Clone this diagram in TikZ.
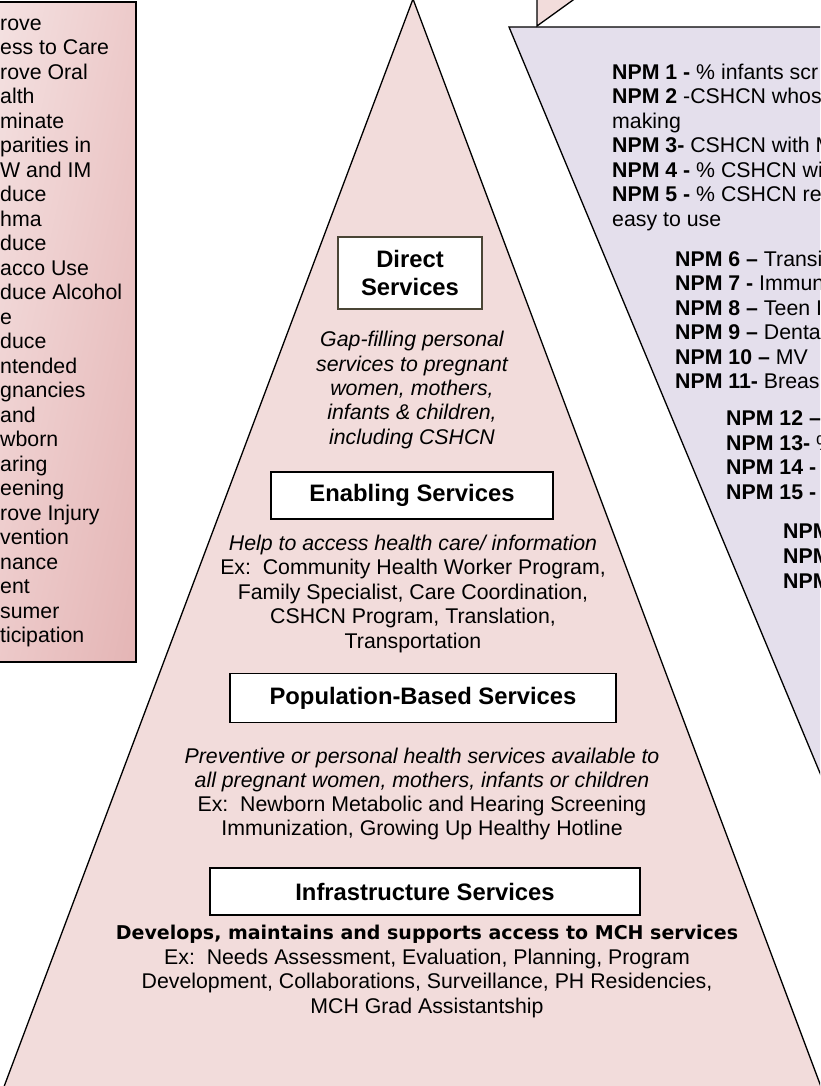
\documentclass[tikz,border=0pt]{standalone}
\usepackage{fontspec}
\setmainfont{Liberation Sans}
\newfontfamily\wideface{DejaVu Sans}
\usepackage{xcolor}
\usepackage{tikz}
\usetikzlibrary{positioning, shadings}
\definecolor{pyrpink}{HTML}{F2DCDB}
\definecolor{goallight}{HTML}{F4E2E2}
\definecolor{goalmid}{HTML}{EDCACA}
\definecolor{goaldark}{HTML}{E4B5B5}
\definecolor{npmlilac}{HTML}{E4DFEC}
\definecolor{oliveline}{HTML}{4A4535}

\tikzset{
  tierbox/.style={draw=black, fill=white, line width=1.3pt, inner sep=0pt,
    align=center, font=\bfseries\fontsize{23.8}{28}\selectfont},
  tiertext/.style={align=center, inner sep=0pt, font=\fontsize{21.3}{24.5}\selectfont},
  gapnote/.style={tiertext, font=\itshape\fontsize{21.3}{24.3}\selectfont},
  npmlist/.style={anchor=west, align=left, inner sep=0pt, font=\fontsize{21.3}{24.5}\selectfont},
  goallist/.style={anchor=west, align=left, inner sep=0pt, font=\fontsize{21.3}{24.5}\selectfont},
}

\begin{document}
\begin{tikzpicture}[x=1pt, y=-1pt]
  \useasboundingbox (0,0) rectangle (820,1086);
  \clip (0,0) rectangle (820,1086);

  % pyramid of services
  \draw[fill=pyrpink, line width=1.3pt] (413,-1) -- (-1,1100) -- (826,1100) -- cycle;

  % NPM panel and the tip above it
  \draw[fill=npmlilac, line width=1.3pt] (509,27) -- (830,27) -- (830,797) -- cycle;
  \filldraw[fill=pyrpink, line width=1.3pt] (537,-5) -- (537,26) -- (580,-5);

  % goals box (cut off on the left)
  \shade[upper left=goallight, upper right=goalmid, lower left=goalmid, lower right=goaldark]
    (-5,2) rectangle (136,662);
  \draw[line width=1.6pt] (-5,2) rectangle (136,662);
  \node[goallist] (goals) at (0,333) {%
    rove\\ess to Care\\rove Oral\\alth\\minate\\parities in\\W and IM\\duce\\hma\\%
    duce\\acco Use\\duce Alcohol\\e\\duce\\ntended\\gnancies\\and\\wborn\\aring\\%
    eening\\rove Injury\\vention\\nance\\ent\\sumer\\ticipation};

  % tiers
  \node[tierbox, draw=oliveline, minimum width=144pt, minimum height=72pt] (direct)
    at (410,273) {Direct\\Services};
  \node[gapnote] (directnote) at (412,390) {%
    Gap-filling personal\\services to pregnant\\women, mothers,\\infants \& children,\\including CSHCN};

  \node[tierbox, minimum width=282pt, minimum height=47pt] (enabling)
    at (412,495.5) {Enabling Services};
  \node[tiertext] (enablingnote) at (413,593.5) {%
    \textit{Help to access health care/ information}\\
    Ex:\ \ Community Health Worker Program,\\
    Family Specialist, Care Coordination,\\
    CSHCN Program, Translation,\\
    Transportation};

  \node[tierbox, minimum width=386pt, minimum height=49pt] (population)
    at (423,698) {Population-Based Services};
  \node[tiertext, font=\fontsize{21.3}{24.2}\selectfont] (populationnote) at (422,794) {%
    \textit{Preventive or personal health services available to}\\
    \textit{all pregnant women, mothers, infants or children}\\
    Ex:\ \ Newborn Metabolic and Hearing Screening\\
    Immunization, Growing Up Healthy Hotline};

  \node[tierbox, minimum width=430pt, minimum height=47pt] (infra)
    at (425,891.5) {Infrastructure Services};
  \node[tiertext, font=\fontsize{21.3}{24.7}\selectfont] (infranote) at (427,971.5) {%
    {\wideface\bfseries\fontsize{19}{24.7}\selectfont Develops, maintains and supports access to MCH services}\\
    Ex:\ \ Needs Assessment, Evaluation, Planning, Program\\
    Development, Collaborations, Surveillance, PH Residencies,\\
    MCH Grad Assistantship};

  % performance measures
  \node[npmlist] (npmA) at (612,147) {%
    \textbf{NPM 1 -} \% infants scr\\
    \textbf{NPM 2} -CSHCN whos\\
    making\\
    \textbf{NPM 3-} CSHCN with M\\
    \textbf{NPM 4 -} \% CSHCN wi\\
    \textbf{NPM 5 -} \% CSHCN re\\
    easy to use};
  \node[npmlist] (npmB) at (675,320) {%
    \textbf{NPM 6 --} Transi\\
    \textbf{NPM 7 -} Immun\\
    \textbf{NPM 8 --} Teen I\\
    \textbf{NPM 9 --} Denta\\
    \textbf{NPM 10 --} MV\\
    \textbf{NPM 11-} Breas};
  \node[npmlist] (npmC) at (726,455) {%
    \textbf{NPM 12 --}\\
    \textbf{NPM 13-} \%\\
    \textbf{NPM 14 -}\\
    \textbf{NPM 15 -}};
  \node[npmlist, font=\bfseries\fontsize{21.3}{25}\selectfont] (npmD) at (783,556.5) {NPM\\NPM\\NPM};
\end{tikzpicture}
\end{document}
